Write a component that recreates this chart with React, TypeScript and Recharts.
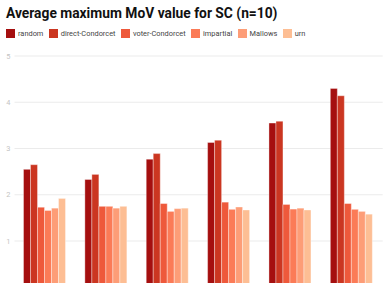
import React from "react";
import { BarChart, Bar, XAxis, YAxis, CartesianGrid } from "recharts";

const categories = ["A", "B", "C", "D", "E", "F"];
const seriesNames = ["random", "direct-Condorcet", "voter-Condorcet", "impartial", "Mallows", "urn"];
const seriesColors = ["#a50f0f", "#cb3621", "#ee593b", "#fb7b57", "#fd9d77", "#fdbe94"];
const random = [2.55, 2.33, 2.77, 3.13, 3.55, 4.3];
const directCondorcet = [2.65, 2.44, 2.89, 3.18, 3.59, 4.14];
const voterCondorcet = [1.73, 1.75, 1.81, 1.84, 1.79, 1.81];
const impartial = [1.66, 1.75, 1.64, 1.685, 1.69, 1.685];
const mallows = [1.71, 1.71, 1.7, 1.735, 1.71, 1.64];
const urn = [1.92, 1.75, 1.71, 1.67, 1.67, 1.58];
const yTicks = [1, 2, 3, 4, 5];

const seriesValues = [random, directCondorcet, voterCondorcet, impartial, mallows, urn];
const data = categories.map((c, i) => {
  const row: Record<string, string | number> = { name: c };
  seriesNames.forEach((s, j) => {
    row[s] = seriesValues[j][i];
  });
  return row;
});

const font = "Roboto, 'Noto Sans', sans-serif";

export default function App() {
  return (
    <div style={{ position: "absolute", left: 0, top: 0, width: 389, height: 283, overflow: "hidden", background: "#fff", fontFamily: font }}>
      <div style={{ position: "absolute", left: 6, top: 7.4, fontSize: 13.8, lineHeight: "13.8px", fontWeight: 700, color: "#111", whiteSpace: "nowrap" }}>
        Average maximum MoV value for SC (n=10)
      </div>
      <div style={{ position: "absolute", left: 6, top: 29.3, height: 9, display: "flex", alignItems: "center", fontSize: 7.4, color: "#444", whiteSpace: "nowrap" }}>
        {seriesNames.map((s, i) => (
          <div key={s} style={{ display: "flex", alignItems: "center", marginRight: 5.4 }}>
            <div style={{ width: 9, height: 9, background: seriesColors[i], marginRight: 3 }} />
            <span>{s}</span>
          </div>
        ))}
      </div>
      <div style={{ position: "absolute", left: 0, top: 0 }}>
        <BarChart
          width={389}
          height={300}
          data={data}
          margin={{ top: 56, right: 6.3, bottom: 12.75, left: 0 }}
          barCategoryGap={9}
          barGap={0}
        >
          <CartesianGrid vertical={false} stroke="#ebebeb" />
          <XAxis dataKey="name" hide />
          <YAxis
            width={14.5}
            domain={[0, 5]}
            ticks={yTicks}
            axisLine={false}
            tickLine={false}
            tickSize={0}
            tickMargin={4}
            tick={{ fontSize: 7.4, fill: "#c4c4c4", fontFamily: font }}
          />
          {seriesNames.map((s, i) => (
            <Bar key={s} dataKey={s} fill={seriesColors[i]} stroke="rgba(255,255,255,0.45)" strokeWidth={0.8} isAnimationActive={false} />
          ))}
        </BarChart>
      </div>
    </div>
  );
}
